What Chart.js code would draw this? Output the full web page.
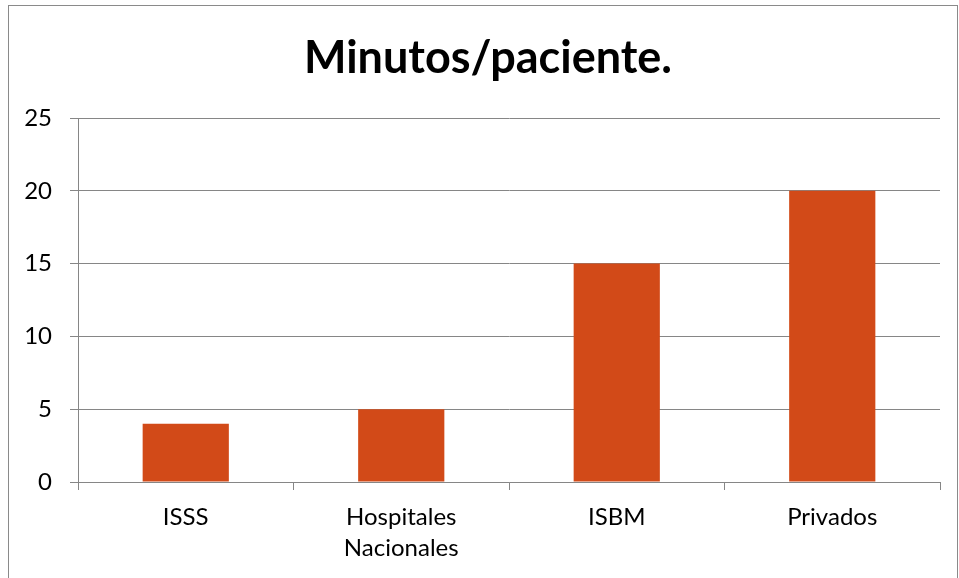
<!DOCTYPE html>
<html>
<head>
<meta charset="utf-8">
<script src="https://cdn.jsdelivr.net/npm/chart.js@4/dist/chart.umd.min.js"></script>
<style>
  html, body { margin: 0; padding: 0; background: #ffffff; }
  canvas { display: block; }
</style>
</head>
<body>
<canvas id="c" width="959" height="578"></canvas>
<script>
const categories = ['ISSS', ['Hospitales', 'Nacionales'], 'ISBM', 'Privados'];
const minutosPorPaciente = [4, 5, 15, 20];
const yTicks = [0, 5, 10, 15, 20, 25];
const chartTitle = 'Minutos/paciente.';

const gridColor = '#868686';
const barColor = '#D24A18';

const frame = {
  id: 'frame',
  afterLayout(chart) {
    const t = chart.titleBlock;
    if (t) { t.left += 27; }
  },
  beforeDraw(chart) {
    const ctx = chart.ctx;
    ctx.save();
    ctx.fillStyle = '#ffffff';
    ctx.fillRect(0, 0, chart.width, chart.height);
    ctx.strokeStyle = '#8a8a8a';
    ctx.lineWidth = 1;
    ctx.strokeRect(8.5, 5.5, 949, 590);
    ctx.restore();
  }
};

new Chart(document.getElementById('c'), {
  type: 'bar',
  data: {
    labels: categories,
    datasets: [{
      data: minutosPorPaciente,
      backgroundColor: barColor,
      borderWidth: 0,
      categoryPercentage: 1,
      barPercentage: 0.4
    }]
  },
  options: {
    responsive: false,
    animation: false,
    devicePixelRatio: 1,
    layout: { padding: { left: 9, right: 19, top: 0, bottom: 0 } },
    plugins: {
      legend: { display: false },
      tooltip: { enabled: false },
      title: {
        display: true,
        text: chartTitle,
        color: '#000000',
        font: { family: 'Lato', size: 45, weight: 'bold', lineHeight: 1.2 },
        padding: { top: 31, bottom: 33 }
      }
    },
    scales: {
      x: {
        grid: { display: true, drawOnChartArea: false, drawTicks: true, tickLength: 8, color: gridColor, offset: true },
        border: { display: true, color: gridColor, width: 1 },
        ticks: {
          color: '#000000',
          font: { family: 'Lato', size: 24, lineHeight: 1.29 },
          padding: 12,
          maxRotation: 0,
          autoSkip: false
        },
        afterFit(scale) { scale.height = 96; }
      },
      y: {
        min: 0,
        max: 25,
        afterBuildTicks(scale) { scale.ticks = yTicks.map(v => ({ value: v })); },
        grid: { color: gridColor, lineWidth: 1, drawTicks: true, tickLength: 8 },
        border: { display: true, color: gridColor, width: 1 },
        ticks: {
          color: '#000000',
          font: { family: 'Lato', size: 24 },
          padding: 18
        },
        afterFit(scale) { scale.width = 69; }
      }
    }
  },
  plugins: [frame]
});
</script>
</body>
</html>
